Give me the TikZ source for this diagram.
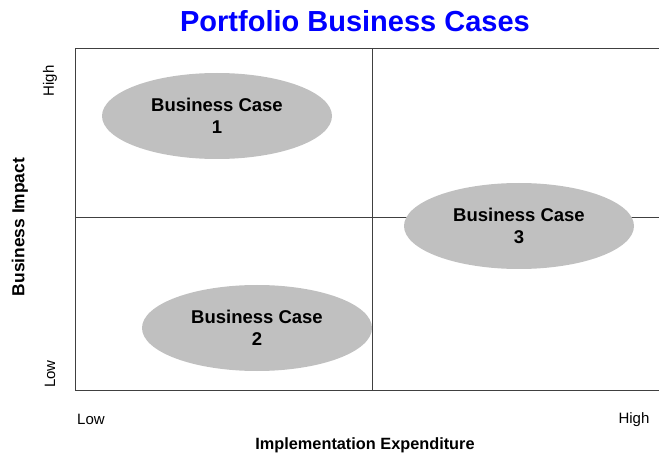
\documentclass[tikz,border=0pt]{standalone}
\usepackage{fontspec}
\setmainfont{Liberation Sans}
\usetikzlibrary{shapes.geometric, positioning}
\definecolor{casegray}{RGB}{192,192,192}
\definecolor{gridline}{RGB}{64,64,64}
\tikzstyle{bcase} = [ellipse, minimum width=230pt, minimum height=86pt, inner sep=0pt, fill=casegray, align=center, font=\fontsize{18.5}{22}\selectfont\bfseries]
\tikzstyle{tick} = [font=\fontsize{15}{18}\selectfont]
\tikzstyle{axis} = [font=\fontsize{16.3}{19}\selectfont\bfseries]
\tikzstyle{grid} = [gridline, line width=1pt]

\begin{document}
\begin{tikzpicture}[x=1pt, y=-1pt]
    \useasboundingbox (0,0) rectangle (659,457);
    \node (title) [font=\fontsize{29}{34}\selectfont\bfseries, text=blue] at (355,21) {Portfolio Business Cases};

    % frame and quadrants
    \draw [grid] (659,49) -- (75,49) -- (75,390) -- (659,390);
    \draw [grid] (372,49) -- (372,390);
    \draw [grid] (75,218) -- (659,218);

    \node (case1) [bcase] at (217,116) {Business Case\\1};
    \node (case2) [bcase] at (257,328) {Business Case\\2};
    \node (case3) [bcase] at (519,226) {Business Case\\3};

    \node (xlow) [tick, anchor=base] at (91,424) {Low};
    \node (xhigh) [tick, anchor=base] at (634,423) {High};
    \node (ylow) [tick, rotate=90] at (50,374) {Low};
    \node (yhigh) [tick, rotate=90] at (50,81) {High};

    \node (xlabel) [axis, anchor=base] at (365,449) {Implementation Expenditure};
    \node (ylabel) [axis, rotate=90, font=\fontsize{17.4}{20}\selectfont\bfseries] at (20,227) {Business Impact};
\end{tikzpicture}
\end{document}
